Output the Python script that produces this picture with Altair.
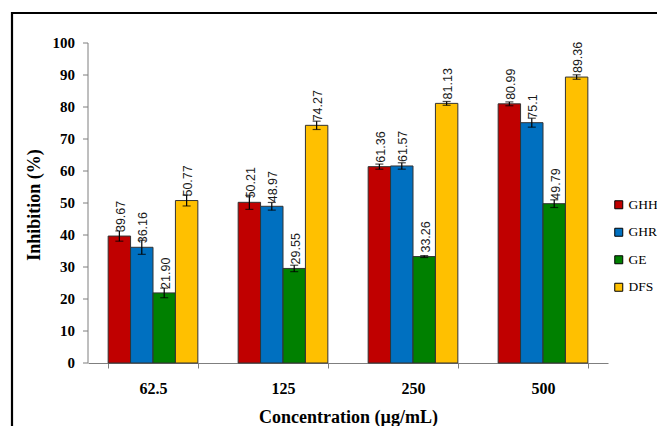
import altair as alt
import pandas as pd

concentrations = ["62.5", "125", "250", "500"]
series = ["GHH", "GHR", "GE", "DFS"]
colors = ["#C00000", "#0070C0", "#008000", "#FFC000"]

ghh = [39.67, 50.21, 61.36, 80.99]
ghr = [36.16, 48.97, 61.57, 75.10]
ge = [21.90, 29.55, 33.26, 49.79]
dfs = [50.77, 74.27, 81.13, 89.36]

ghh_err = [1.6, 2.2, 0.8, 0.6]
ghr_err = [2.2, 1.2, 1.0, 1.4]
ge_err = [1.5, 1.0, 0.3, 1.2]
dfs_err = [1.7, 1.3, 0.6, 0.7]

ghh_lbl = ["39.67", "50.21", "61.36", "80.99"]
ghr_lbl = ["36.16", "48.97", "61.57", "75.1"]
ge_lbl = ["21.90", "29.55", "33.26", "49.79"]
dfs_lbl = ["50.77", "74.27", "81.13", "89.36"]

y_ticks = [0, 10, 20, 30, 40, 50, 60, 70, 80, 90, 100]
y_title = "Inhibition (%)"
x_title = "Concentration (µg/mL)"

rows = []
for s, vals, errs, lbls in zip(series, [ghh, ghr, ge, dfs],
                               [ghh_err, ghr_err, ge_err, dfs_err],
                               [ghh_lbl, ghr_lbl, ge_lbl, dfs_lbl]):
    for c, v, e, l in zip(concentrations, vals, errs, lbls):
        rows.append({"conc": c, "series": s, "value": v,
                     "lo": v - e, "hi": v + e, "label": l})
df = pd.DataFrame(rows)
ticks_df = pd.DataFrame({"t": y_ticks, "lbl": [str(t) for t in y_ticks]})
dom_df = pd.DataFrame({"lo": [min(y_ticks)], "hi": [max(y_ticks)]})

SERIF = "Liberation Serif"
GREY = "#7f7f7f"

x_axis = alt.Axis(title=x_title, labelAngle=0,
                  tickBand="extent", labelFont=SERIF,
                  labelFontWeight="bold", labelFontSize=16,
                  labelColor="black", labelPadding=12,
                  titleFont=SERIF, titleFontWeight="bold",
                  titleFontSize=18, titleColor="black",
                  titlePadding=12, domainColor=GREY,
                  tickColor=GREY, tickSize=5)
x_scale = alt.Scale(paddingInner=0.31, paddingOuter=0.155)
y_scale = alt.Scale(domain=[0, 100], nice=False)


def X():
    return alt.X("conc:N", sort=concentrations, scale=x_scale, axis=x_axis)


def Y(field):
    return alt.Y(field, scale=y_scale, axis=None)


xoff = alt.XOffset("series:N", sort=series)

base = alt.Chart(df)

bars = base.mark_bar(stroke="#333333", strokeWidth=1).encode(
    x=X(), xOffset=xoff, y=Y("value:Q"),
    color=alt.Color("series:N", sort=series,
                    scale=alt.Scale(domain=series, range=colors),
                    legend=alt.Legend(title=None, orient="none",
                                      legendX=524, legendY=155,
                                      symbolType="square", symbolSize=64,
                                      symbolStrokeColor="black",
                                      symbolStrokeWidth=1,
                                      labelFont=SERIF, labelFontSize=13.5,
                                      labelColor="black", labelOffset=3,
                                      rowPadding=12.5)),
)

err_rule = base.mark_rule(color="black", strokeWidth=1.2).encode(
    x=X(), xOffset=xoff, y=Y("lo:Q"), y2="hi:Q")
err_lo = base.mark_tick(color="black", size=8, thickness=1.2).encode(
    x=X(), xOffset=xoff, y=Y("lo:Q"))
err_hi = base.mark_tick(color="black", size=8, thickness=1.2).encode(
    x=X(), xOffset=xoff, y=Y("hi:Q"))

labels = base.mark_text(angle=270, align="left", baseline="middle",
                        dx=4, dy=1.5, font="Liberation Sans", fontSize=12.5,
                        color="#1a1a1a").encode(
    x=X(), xOffset=xoff, y=Y("value:Q"), text="label:N")

# y axis drawn from the y scale
y_domain = alt.Chart(dom_df).mark_rule(color=GREY, strokeWidth=1).encode(
    x=alt.value(0), y=Y("lo:Q"), y2="hi:Q")
y_tick_marks = alt.Chart(ticks_df).mark_rule(color=GREY, strokeWidth=1).encode(
    x=alt.value(-5), x2=alt.value(0), y=Y("t:Q"))
y_tick_labels = alt.Chart(ticks_df).mark_text(
    align="right", baseline="middle", font=SERIF, fontWeight="bold",
    fontSize=15, color="black").encode(
    x=alt.value(-13), y=Y("t:Q"), text="lbl:N")
y_title_mark = alt.Chart(pd.DataFrame({"txt": [y_title]})).mark_text(
    angle=270, align="center", baseline="middle", font=SERIF,
    fontWeight="bold", fontSize=18, color="black").encode(
    x=alt.value(-53), y=alt.value(162), text="txt:N")

frame = alt.Chart(pd.DataFrame({"k": [0]})).mark_rect(
    fill="transparent", stroke="black", strokeWidth=2.2).encode(
    x=alt.value(-76), x2=alt.value(800), y=alt.value(-30), y2=alt.value(600))

chart = alt.layer(frame, bars, err_rule, err_lo, err_hi, labels,
                  y_domain, y_tick_marks, y_tick_labels, y_title_mark).properties(
    width=520, height=320,
    background="white",
    autosize=alt.AutoSizeParams(type="none"),
    padding={"left": 80, "top": 35, "right": 49, "bottom": 63},
).configure_view(stroke=None)

chart.save("out.html", embed_options={"renderer": "svg", "actions": False})
